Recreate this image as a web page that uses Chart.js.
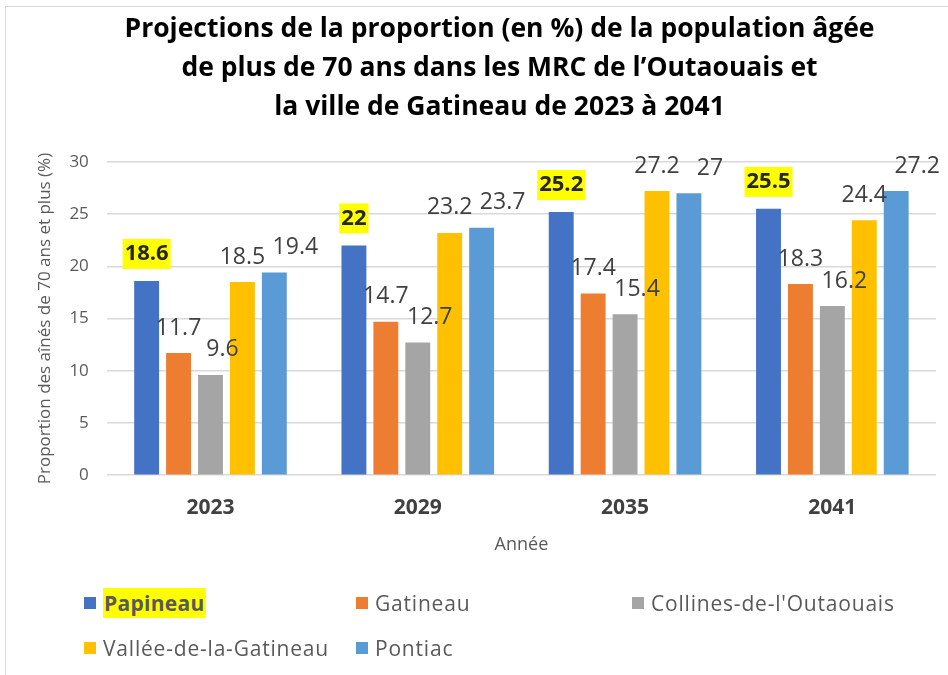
<!DOCTYPE html>
<html>
<head>
<meta charset="utf-8">
<script src="https://cdn.jsdelivr.net/npm/chart.js@4"></script>
<style>
  body { margin: 0; background: #fff; }
  .wrap { position: relative; width: 948px; height: 675px; }
  .frame { position: absolute; left: 5px; top: 6px; right: 0; bottom: 0; border-top: 1px solid #d9d9d9; border-left: 1px solid #d9d9d9; }
  canvas { position: absolute; left: 0; top: 0; }
  .legend { position: absolute; left: 84px; top: 588px; width: 860px; font-family: "Open Sans", sans-serif; font-size: 21px; letter-spacing: 0.8px; color: #595959; }
  .legend .item { position: absolute; display: flex; align-items: center; white-space: nowrap; height: 30px; }
  .legend .box { width: 12px; height: 12px; margin-right: 7px; }
  .legend .hl { background: #ffff00; font-weight: bold; letter-spacing: 0.3px; padding: 0 1px; line-height: 30px; }
</style>
</head>
<body>
<div class="wrap">
  <div class="frame"></div>
  <canvas id="chart" width="948" height="675"></canvas>
  <div class="legend" id="legend"></div>
</div>
<script>
const years = ['2023', '2029', '2035', '2041'];
const papineau = [18.6, 22, 25.2, 25.5];
const gatineau = [11.7, 14.7, 17.4, 18.3];
const collines = [9.6, 12.7, 15.4, 16.2];
const vallee = [18.5, 23.2, 27.2, 24.4];
const pontiac = [19.4, 23.7, 27, 27.2];
const yTicks = [0, 5, 10, 15, 20, 25, 30];

// labelDx : décalage horizontal des étiquettes (comme dans Excel)
const series = [
  { label: 'Papineau', data: papineau, color: '#4472c4', highlight: true, labelDx: 0 },
  { label: 'Gatineau', data: gatineau, color: '#ed7d31', labelDx: 0 },
  { label: "Collines-de-l'Outaouais", data: collines, color: '#a5a5a5', labelDx: 12 },
  { label: 'Vallée-de-la-Gatineau', data: vallee, color: '#ffc000', labelDx: 0 },
  { label: 'Pontiac', data: pontiac, color: '#5b9bd5', labelDx: 21 }
];

// étiquettes de valeurs au-dessus des barres
const valueLabels = {
  id: 'valueLabels',
  afterDatasetsDraw(chart) {
    const ctx = chart.ctx;
    ctx.save();
    ctx.textAlign = 'center';
    ctx.textBaseline = 'middle';
    chart.data.datasets.forEach((ds, i) => {
      const meta = chart.getDatasetMeta(i);
      meta.data.forEach((bar, j) => {
        const txt = String(ds.data[j]);
        const x = bar.x + ds.labelDx;
        if (ds.highlight) {
          const y = bar.y - 27;
          ctx.font = 'bold 22px "Open Sans", sans-serif';
          const w = ctx.measureText(txt).width;
          ctx.fillStyle = '#ffff00';
          ctx.fillRect(x - w / 2 - 2, y - 15, w + 4, 30);
          ctx.fillStyle = '#262626';
          ctx.fillText(txt, x, y);
        } else {
          ctx.font = '23px "Open Sans", sans-serif';
          ctx.fillStyle = '#404040';
          ctx.fillText(txt, x, bar.y - 25);
        }
      });
    });
    ctx.restore();
  }
};

// le titre Excel est centré sur toute la largeur de l'image
const titleShift = {
  id: 'titleShift',
  afterLayout(chart) {
    const t = chart.titleBlock;
    if (t) { t.left += 14; t.right += 14; }
  }
};

const chart = new Chart(document.getElementById('chart'), {
  type: 'bar',
  data: {
    labels: years,
    datasets: series.map(s => ({
      label: s.label,
      data: s.data,
      backgroundColor: s.color,
      highlight: s.highlight,
      labelDx: s.labelDx,
      categoryPercentage: 0.77,
      barPercentage: 0.78
    }))
  },
  options: {
    responsive: false,
    animation: false,
    layout: { padding: { top: 10, right: 12, bottom: 115, left: 35 } },
    plugins: {
      legend: { display: false },
      tooltip: { enabled: false },
      title: {
        display: true,
        text: [
          'Projections de la proportion (en %) de la population âgée',
          'de plus de 70 ans dans les MRC de l\u2019Outaouais et',
          'la ville de Gatineau de 2023 à 2041'
        ],
        color: '#000',
        font: { family: '"Open Sans", sans-serif', size: 26.5, weight: 'bold', lineHeight: 1.47 },
        padding: { top: 0, bottom: 35 }
      }
    },
    scales: {
      x: {
        grid: { display: false },
        border: { display: false },
        ticks: { color: '#404040', font: { family: '"Open Sans", sans-serif', size: 21, weight: 'bold' }, padding: 12 },
        title: { display: true, text: 'Année', color: '#595959', font: { family: '"Open Sans", sans-serif', size: 18 }, padding: { top: 2 } }
      },
      y: {
        min: 0,
        max: 30,
        afterBuildTicks: axis => { axis.ticks = yTicks.map(v => ({ value: v })); },
        grid: { color: '#d9d9d9', lineWidth: 1.5, drawTicks: false },
        border: { display: false },
        ticks: { color: '#595959', font: { family: '"Open Sans", sans-serif', size: 17 }, padding: 18 },
        title: { display: true, text: 'Proportion des aînés de 70 ans et plus (%)', color: '#595959', font: { family: '"Open Sans", sans-serif', size: 17 }, padding: { top: 0, bottom: -4 } }
      }
    }
  },
  plugins: [valueLabels, titleShift]
});

// légende HTML en grille de trois colonnes
const cols = [0, 272, 548];
const legend = document.getElementById('legend');
chart.data.datasets.forEach((ds, i) => {
  const item = document.createElement('div');
  item.className = 'item';
  item.style.left = cols[i % 3] + 'px';
  item.style.top = (Math.floor(i / 3) * 45) + 'px';
  const box = document.createElement('span');
  box.className = 'box';
  box.style.background = ds.backgroundColor;
  const txt = document.createElement('span');
  txt.textContent = ds.label;
  if (ds.highlight) txt.className = 'hl';
  item.appendChild(box);
  item.appendChild(txt);
  legend.appendChild(item);
});
</script>
</body>
</html>
